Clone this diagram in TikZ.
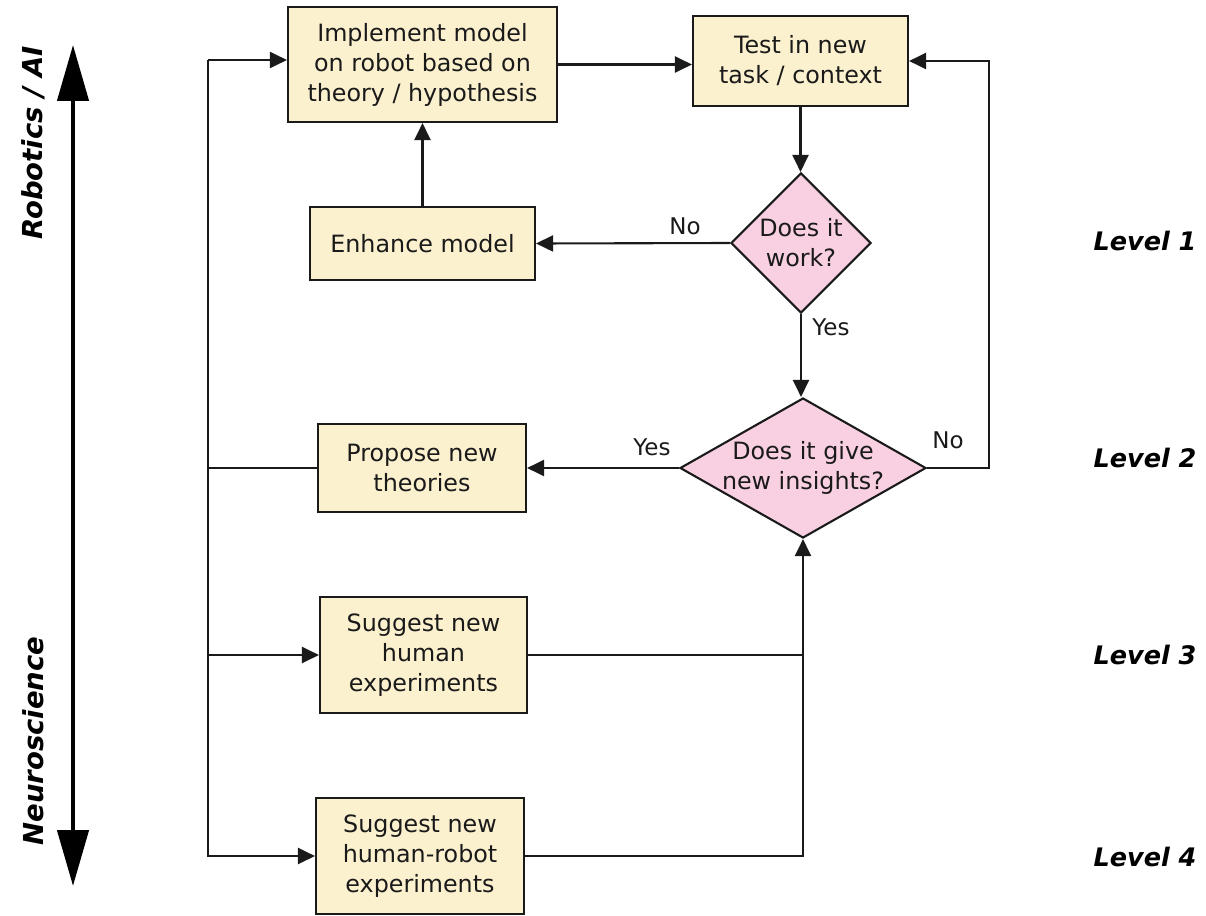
\documentclass[tikz,border=0pt]{standalone}
\usepackage{fontspec}
\setmainfont{DejaVu Sans}
\usetikzlibrary{shapes.geometric,arrows.meta,calc}
\definecolor{boxfill}{HTML}{FCF1CE}
\definecolor{diafill}{HTML}{F9D0E2}
\definecolor{edge}{HTML}{1A1A1A}
\begin{document}
\begin{tikzpicture}[x=1pt,y=-1pt,
  every node/.style={font=\fontsize{23.8}{30}\selectfont, text=edge},
  procbox/.style={draw=edge, line width=2.1pt, fill=boxfill, inner sep=0pt, align=center},
  decision/.style={draw=edge, line width=2.1pt, fill=diafill, shape=diamond, inner sep=0pt},
  conn/.style={draw=edge, line width=2.1pt},
  arr/.style={conn, -{Triangle[length=17pt,width=16pt]}},
  edgelabel/.style={font=\fontsize{23}{27}\selectfont},
  levellabel/.style={font=\fontsize{25.5}{30}\selectfont\bfseries\itshape, text=black},
  axislabel/.style={font=\fontsize{27.5}{30}\selectfont\bfseries\itshape, text=black, rotate=90}
]
\useasboundingbox (0,0) rectangle (1206,915);

% boxes
\node[procbox, minimum width=269, minimum height=115] (b1) at (422.5,64.5) {Implement model\\on robot based on\\theory / hypothesis};
\node[procbox, minimum width=215, minimum height=90] (b2) at (800.5,61) {Test in new\\task / context};
\node[procbox, minimum width=225, minimum height=73] (enh) at (422.5,243.5) {Enhance model};
\node[procbox, minimum width=208, minimum height=88] (prop) at (422,468) {Propose new\\theories};
\node[procbox, minimum width=207, minimum height=116] (b3) at (423.5,655) {Suggest new\\human\\experiments};
\node[procbox, minimum width=208, minimum height=116] (b4) at (420,856) {Suggest new\\human-robot\\experiments};

% decisions
\node[decision, minimum width=140, minimum height=140,
  label={[align=center]center:Does it\\work?}] (d1) at (801,243) {};
\node[decision, minimum width=246, minimum height=140,
  label={[align=center]center:Does it give\\new insights?}] (d2) at (803,468) {};

% helper coordinates
\coordinate (busTop) at (208,60);
\coordinate (busBot) at (208,857);
\coordinate (rx) at (989,468);

% connectors
\draw[arr] (b1.east) -- (b1.east -| b2.west);
\draw[arr] (b2.south) -- (b2.south |- d1.north);
\draw[arr] (d1.west) -- (enh.east);
\draw[arr] (enh.north) -- (b1.south);
\draw[arr] (d1.south) -- (d1.south |- d2.north);
\draw[arr] (d2.west) -- (prop.east);
\draw[arr] (d2.east) -- (rx) |- (b2.east);

% edge labels
\node[edgelabel] (lno1) at (685,226) {No};
\node[edgelabel] (lyes1) at (831,327) {Yes};
\node[edgelabel] (lyes2) at (652,447) {Yes};
\node[edgelabel] (lno2) at (948,440) {No};

% left bus
\draw[conn] (busBot) -- (busTop);
\draw[arr] (busTop) -- (busTop -| b1.west);
\draw[conn] (prop.west) -- (prop.west -| busTop);
\draw[arr] (busTop |- b3.west) -- (b3.west);
\draw[arr] (busTop |- b4.west) -- (b4.west);

% lower feedback
\draw[conn] (b3.east) -- (b3.east -| d2.south);
\draw[arr] (b4.east) -- (b4.east -| d2.south) -- (d2.south);

% axis
\coordinate (axTop) at (73,45);
\coordinate (axBot) at (73,886);
\draw[line width=4.5pt, black, {Triangle[length=56pt,width=31pt]}-{Triangle[length=56pt,width=31pt]}] (axBot) -- (axTop);
\node[axislabel] (robo) at (33,143) {Robotics / AI};
\node[axislabel] (neuro) at (33,741) {Neuroscience};

% levels
\node[levellabel] (lv1) at (1145,241) {Level 1};
\node[levellabel] (lv2) at (1145,458) {Level 2};
\node[levellabel] (lv3) at (1145,655) {Level 3};
\node[levellabel] (lv4) at (1145,857) {Level 4};
\end{tikzpicture}
\end{document}
